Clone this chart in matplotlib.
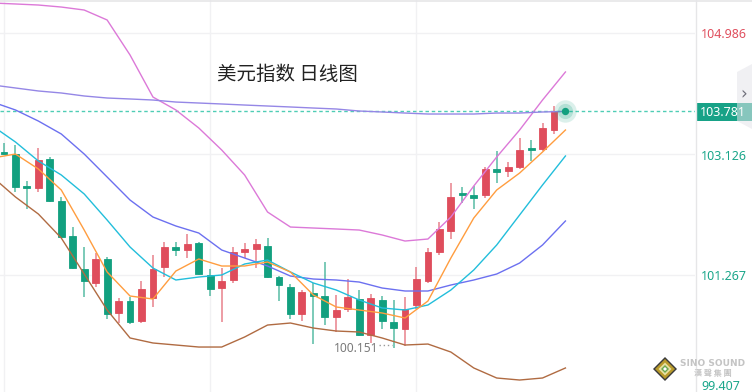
import numpy as np
import matplotlib
matplotlib.use('Agg')
import matplotlib.pyplot as plt
from matplotlib.patches import Rectangle, Polygon
from matplotlib.lines import Line2D

# ---------------- data (USD index, daily) ----------------
opens = [103.157, 103.126, 102.635, 102.604, 103.049, 102.404, 101.866, 101.359, 101.144, 101.513,
         100.683, 100.867, 100.560, 100.913, 101.390, 101.697, 101.651, 101.759, 101.267, 101.067,
         101.190, 101.620, 101.666, 101.712, 101.236, 101.082, 100.667, 100.990, 100.944, 100.621,
         100.744, 100.898, 100.345, 100.883, 100.545, 100.437, 100.806, 101.175, 101.620, 101.943,
         102.527, 102.496, 102.496, 102.896, 102.865, 102.927, 103.219, 103.203, 103.495]
highs = [103.295, 103.265, 102.711, 103.219, 103.080, 102.466, 102.004, 101.697, 101.605, 101.543,
         100.913, 100.929, 101.175, 101.574, 101.774, 101.774, 101.897, 101.774, 101.359, 101.374,
         101.697, 101.759, 101.820, 101.835, 101.250, 101.128, 101.036, 101.144, 101.467, 100.959,
         101.205, 101.036, 100.975, 100.944, 100.883, 100.929, 101.390, 101.682, 102.081, 102.681,
         102.619, 102.635, 102.927, 103.172, 103.003, 103.372, 103.341, 103.603, 103.864]
lows = [103.111, 102.542, 102.281, 102.542, 102.389, 101.835, 101.359, 100.929, 101.082, 100.591,
        100.529, 100.514, 100.529, 100.775, 101.236, 101.559, 101.528, 101.267, 100.944, 100.545,
        101.144, 101.528, 101.374, 101.220, 100.867, 100.591, 100.560, 100.206, 100.498, 100.391,
        100.698, 100.329, 100.222, 100.437, 100.151, 100.176, 100.744, 101.144, 101.574, 101.820,
        102.373, 102.281, 102.450, 102.681, 102.773, 102.896, 103.019, 103.172, 103.434]
closes = [103.126, 102.619, 102.604, 103.034, 102.404, 101.851, 101.374, 101.175, 101.513, 100.667,
          100.867, 100.545, 101.051, 101.359, 101.697, 101.651, 101.743, 101.282, 101.051, 101.175,
          101.620, 101.666, 101.743, 101.236, 101.113, 100.667, 101.006, 100.944, 100.621, 100.729,
          100.929, 100.345, 100.913, 100.560, 100.452, 100.744, 101.205, 101.620, 101.974, 102.466,
          102.496, 102.450, 102.896, 102.850, 102.927, 103.188, 103.188, 103.526, 103.781]

# indicator lines sampled at every second bar (bar index -1, 1, 3, ... 49)
line_idx = list(range(-1, 50, 2))
ma_short = [103.065, 103.126, 102.896, 102.573, 101.958, 101.313, 100.944, 100.898, 101.328, 101.513,
            101.405, 101.405, 101.467, 101.313, 100.959, 100.775, 100.729, 100.683, 100.606, 100.867,
            101.528, 102.143, 102.573, 102.834, 103.157, 103.495]
ma_mid = [103.557, 103.311, 103.019, 102.804, 102.512, 102.112, 101.697, 101.374, 101.190, 101.236,
          101.267, 101.436, 101.497, 101.313, 101.144, 101.036, 100.883, 100.760, 100.729, 100.806,
          101.036, 101.344, 101.728, 102.189, 102.650, 103.096]
ma_long = [103.925, 103.803, 103.633, 103.434, 103.126, 102.773, 102.419, 102.158, 102.020, 101.912,
           101.651, 101.528, 101.405, 101.251, 101.205, 101.190, 101.159, 101.067, 101.021, 101.021,
           101.113, 101.190, 101.282, 101.451, 101.728, 102.097]
ma_very_long = [104.187, 104.141, 104.095, 104.064, 104.018, 103.987, 103.972, 103.956, 103.925, 103.910,
                103.895, 103.879, 103.864, 103.849, 103.833, 103.818, 103.787, 103.772, 103.756, 103.741,
                103.741, 103.741, 103.756, 103.756, 103.772, 103.781]
boll_upper = [105.447, 105.432, 105.416, 105.385, 105.339, 105.186, 104.648, 104.002, 103.803, 103.526,
              103.188, 102.804, 102.235, 102.004, 101.989, 101.974, 101.958, 101.882, 101.789, 101.820,
              102.158, 102.635, 103.080, 103.495, 103.956, 104.387]
boll_lower = [102.773, 102.466, 102.204, 101.835, 101.282, 100.729, 100.299, 100.222, 100.191, 100.160,
              100.160, 100.314, 100.498, 100.529, 100.452, 100.406, 100.391, 100.299, 100.191, 100.206,
              100.083, 99.838, 99.684, 99.653, 99.684, 99.838]

axis_labels = ["104.986", "103.126", "101.267", "99.407"]
last_price = 103.781
low_label = "100.151"
title = "美元指数 日线图"

# ---------------- figure ----------------
W, H = 752, 392
PW = 695           # plot area width in px
x0, step = 4.0, 11.458
ppu = 65.07        # px per price unit
ytop = 104.986 + 33 / ppu

fig = plt.figure(figsize=(W / 100, H / 100), dpi=100)
fig.patch.set_facecolor('white')
ax = fig.add_axes([0, 0, PW / W, 1])
ax.set_xlim(-x0 / step, (PW - x0) / step)
ax.set_ylim(ytop - H / ppu, ytop)
ax.axis('off')

def fx(px):
    return px / W

def fy(py):
    return 1 - py / H

grid_c = '#f1f1f3'
for v in [float(s) for s in axis_labels]:
    ax.axhline(v, color=grid_c, lw=1.0, zorder=0)
for xi in [0, 18, 36]:
    ax.axvline(xi, color=grid_c, lw=1.0, zorder=0)

# candles
RED = '#df4d5c'
GREEN = '#12a07f'
for i, (o, h, l, c) in enumerate(zip(opens, highs, lows, closes)):
    col = RED if c >= o else GREEN
    ax.vlines(i, l, h, color=col, lw=1.3, alpha=0.6, zorder=2)
    bot = min(o, c)
    hgt = max(abs(c - o), 0.025)
    ax.add_patch(Rectangle((i - 0.3, bot), 0.6, hgt, facecolor=col, edgecolor=col,
                           lw=0.6, zorder=3))

# indicator lines
lw = 1.0
ax.plot(line_idx, boll_upper, color='#dc79d8', lw=lw, zorder=4)
ax.plot(line_idx, ma_very_long, color='#9587e6', lw=lw, zorder=4)
ax.plot(line_idx, ma_long, color='#6c70f0', lw=lw, zorder=4)
ax.plot(line_idx, ma_mid, color='#22bedb', lw=lw, zorder=4)
ax.plot(line_idx, ma_short, color='#ff9d3f', lw=lw, zorder=4)
ax.plot(line_idx, boll_lower, color='#b06b42', lw=lw, zorder=4)

# current price dashed line
ax.axhline(last_price, color='#4fcdb5', lw=1.0, ls=(0, (2.5, 2)), zorder=1)

# glow dot at the end
ax.scatter([line_idx[-1]], [last_price], s=260, color='#12a07f', alpha=0.15, zorder=5, lw=0)
ax.scatter([line_idx[-1]], [last_price], s=120, color='#12a07f', alpha=0.2, zorder=5, lw=0)
ax.scatter([line_idx[-1]], [last_price], s=28, color='#12a07f', zorder=6, lw=0)

# low label with dotted leader
lo_i = int(np.argmin(lows))
ax.plot([lo_i - 1.25, lo_i - 0.15], [lows[lo_i] + 0.04, lows[lo_i] + 0.04],
        color='#9a9a9a', lw=1.0, ls=(0, (1, 2)), zorder=5)
ax.text(lo_i - 1.3, lows[lo_i] - 0.015, low_label, ha='right', va='center',
        fontsize=8.6, color='#7a7a7a', family='Noto Sans', zorder=6)

# title
fig.text(fx(217), fy(74), title, fontsize=14, color='#222222', ha='left', va='center',
         family=['Noto Sans CJK SC', 'DejaVu Sans'])

# borders
fig.add_artist(Line2D([fx(PW + 0.5)] * 2, [0, 1], color='#e6e6e8', lw=1.0))
fig.add_artist(Line2D([0, 1], [fy(1)] * 2, color='#e6e6e8', lw=1.2))

# right axis labels
label_y = [34, 156, 277, 387]
label_c = ['#e0505f', '#1aa68a', '#1aa68a', '#1aa68a']
for s, yy, cc in zip(axis_labels, label_y, label_c):
    fig.text(fx(701), fy(yy), s, fontsize=9, color=cc, ha='left', va='center', family='Noto Sans')

# last price box
fig.add_artist(Rectangle((fx(696), fy(121)), fx(56), 18 / H, transform=fig.transFigure,
                         facecolor='#17a287', edgecolor='none'))
fig.text(fx(700), fy(112.5), "103.781", fontsize=9, color='white', ha='left', va='center',
         family='Noto Sans')
# scroll handle
fig.add_artist(Polygon([(fx(752), fy(64)), (fx(737), fy(72)), (fx(737), fy(121)), (fx(752), fy(129))],
                       closed=True, transform=fig.transFigure, facecolor='#e4e4ea', alpha=0.55,
                       edgecolor='none'))
fig.text(fx(744), fy(94), "›", fontsize=12, color='#6e6e7a', ha='center', va='center',
         family='DejaVu Sans')

# logo
cx, cy = 665, 369
for r, colr in [(12, '#3a3a3a'), (10, '#b89a2a'), (6.5, '#e8e0a0'), (4, '#6aa84f'), (2, '#ffffff')]:
    fig.add_artist(Polygon([(fx(cx), fy(cy - r)), (fx(cx + r), fy(cy)), (fx(cx), fy(cy + r)),
                            (fx(cx - r), fy(cy))], closed=True, transform=fig.transFigure,
                           facecolor=colr, edgecolor='none'))
fig.text(fx(713), fy(363), "SINO SOUND", fontsize=6.5, color='#c4c4c4', ha='center', va='center',
         weight='bold', family='DejaVu Sans')
fig.text(fx(713), fy(373.5), "漢 聲 集 團", fontsize=5.8, color='#c4c4c4', ha='center', va='center',
         weight='bold', family=['Noto Sans CJK TC', 'DejaVu Sans'])

fig.savefig('out.png', dpi=100, facecolor='white')
